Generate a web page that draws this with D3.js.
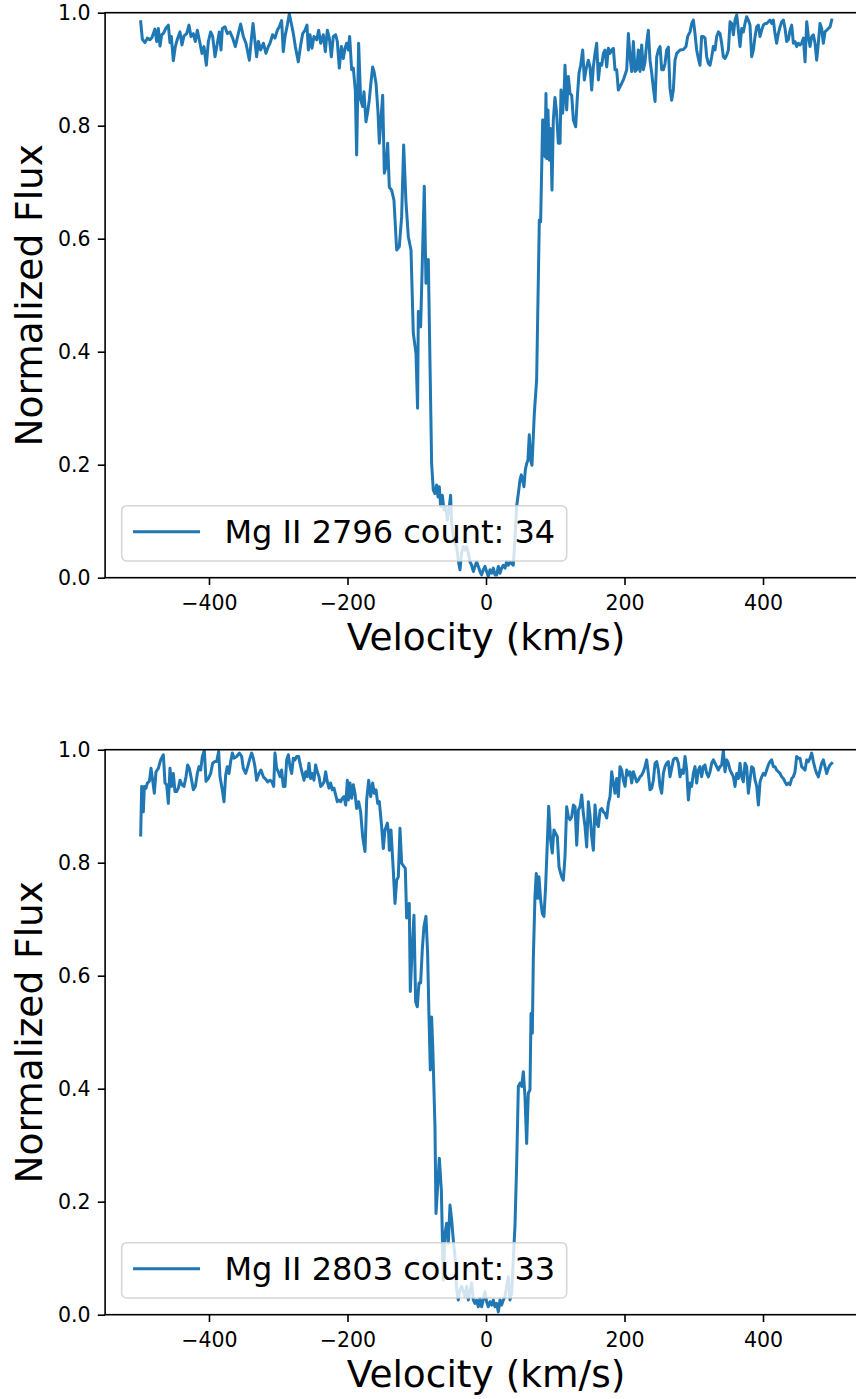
<!DOCTYPE html>
<html><head><meta charset="utf-8">
<script src="https://cdn.jsdelivr.net/npm/d3@7"></script>
<style>body{margin:0;background:#fff}svg{display:block}text{font-family:"DejaVu Sans",sans-serif}</style>
</head><body><svg id="c" width="856" height="1399"></svg>
<script>
const vel2796=[-498.6,-496.2,-492.4,-489.0,-485.2,-482.3,-480.4,-478.0,-475.5,-473.1,-470.7,-468.3,-465.9,-462.5,-458.7,-456.3,-454.4,-451.5,-448.6,-445.7,-441.9,-439.0,-436.1,-432.2,-428.9,-426.0,-422.6,-419.7,-416.8,-413.0,-410.1,-407.2,-403.8,-400.9,-397.6,-394.7,-391.3,-387.9,-385.1,-382.6,-380.7,-376.9,-373.5,-369.7,-365.8,-362.0,-358.6,-354.3,-350.4,-346.6,-341.7,-338.9,-336.4,-333.6,-331.2,-328.7,-325.4,-321.5,-317.7,-314.3,-311.9,-308.1,-304.7,-301.3,-298.4,-295.1,-292.7,-290.2,-286.9,-284.0,-281.1,-278.2,-275.3,-273.4,-271.0,-267.6,-264.7,-261.4,-258.5,-256.5,-254.1,-251.3,-248.4,-244.5,-241.6,-238.7,-234.9,-232.0,-229.1,-226.2,-223.3,-220.5,-217.1,-214.7,-211.8,-208.9,-206.0,-203.6,-201.2,-198.8,-196.9,-194.0,-191.6,-188.7,-186.8,-183.9,-181.0,-178.1,-176.2,-173.3,-170.4,-168.5,-166.5,-163.7,-161.7,-158.8,-156.0,-154.0,-152.1,-149.2,-146.8,-144.4,-142.0,-139.6,-136.2,-132.9,-129.0,-125.2,-121.8,-118.9,-115.6,-112.2,-108.3,-105.0,-101.1,-98.8,-97.7,-94.4,-89.1,-86.7,-83.3,-78.5,-76.1,-73.7,-71.3,-69.3,-67.4,-65.5,-63.1,-60.7,-58.3,-55.9,-53.5,-51.1,-49.6,-47.2,-44.8,-42.4,-40.0,-37.6,-35.2,-32.8,-30.4,-28.0,-25.5,-23.1,-20.7,-18.3,-15.9,-13.5,-11.1,-8.7,-6.3,-3.9,-1.5,0.9,3.3,5.7,8.2,10.6,13.0,15.4,17.8,20.2,22.6,25.0,27.4,29.8,32.2,34.6,37.0,39.4,41.8,44.2,46.7,49.1,51.0,52.9,54.8,56.8,58.7,60.6,62.5,64.5,66.4,68.3,69.8,73.1,77.0,78.9,81.8,84.2,85.2,86.6,87.6,89.5,91.4,93.3,95.3,97.2,99.6,102.0,104.4,106.9,108.3,110.7,112.7,114.1,116.5,118.9,121.3,123.7,126.2,129.5,131.9,134.3,136.7,139.6,142.0,144.4,147.8,150.2,152.6,155.0,157.4,159.8,162.3,164.7,167.1,169.5,171.9,174.3,176.7,179.1,181.5,183.9,186.3,188.7,191.1,193.5,195.9,198.3,200.8,203.2,205.6,208.0,210.4,212.8,215.2,217.6,220.0,222.4,224.8,227.2,229.6,232.0,234.4,236.8,239.3,241.7,244.1,246.5,248.9,251.3,253.7,256.1,258.5,260.9,263.3,265.7,268.1,270.5,272.9,275.4,277.8,280.2,285.0,288.8,291.2,294.6,297.0,299.4,301.8,304.2,306.6,309.0,311.4,313.9,316.3,318.7,321.1,323.5,325.9,328.3,330.7,333.1,335.5,337.9,340.3,342.7,345.1,347.6,350.0,352.4,354.8,357.2,359.6,362.0,364.4,366.8,369.2,371.6,374.0,376.4,378.8,381.2,383.6,386.1,388.5,390.9,393.3,395.7,398.1,400.5,402.9,405.3,407.7,410.1,412.5,414.9,417.3,419.7,422.1,424.6,427.0,429.4,431.8,434.2,436.6,439.0,441.4,443.8,446.2,448.6,451.0,453.4,455.8,458.3,460.7,463.1,465.5,467.9,470.3,472.7,475.1,477.5,479.9,482.3,484.7,487.1,489.5,491.9,494.4,496.8,499.2];
const flux2796=[.984,.953,.947,.955,.952,.956,.963,.971,.949,.972,.941,.961,.963,.972,.978,.947,.958,.915,.940,.953,.966,.943,.959,.963,.978,.958,.963,.949,.969,.946,.928,.940,.907,.949,.966,.958,.922,.946,.966,.934,.972,.975,.963,.966,.955,.940,.958,.980,.958,.946,.916,.952,.981,.949,.922,.949,.934,.946,.928,.940,.946,.961,.955,.969,.975,.986,.931,.958,.978,.998,.981,.963,.940,.928,.913,.943,.963,.969,.978,.934,.961,.937,.958,.952,.969,.946,.961,.931,.969,.955,.922,.958,.961,.949,.902,.940,.919,.937,.946,.934,.958,.899,.902,.863,.748,.946,.846,.834,.860,.807,.828,.846,.872,.904,.896,.875,.825,.769,.804,.854,.716,.727,.769,.691,.686,.668,.580,.586,.639,.766,.666,.604,.580,.433,.397,.300,.471,.444,.693,.521,.563,.202,.155,.149,.164,.143,.161,.126,.146,.120,.126,.102,.120,.146,.096,.073,.061,.055,.031,.014,.043,.055,.049,.055,.043,.028,.022,.011,.020,.028,.020,.011,.005,.014,.020,.011,.002,.014,.008,.017,.005,.005,.020,.008,.017,.022,.017,.028,.022,.028,.025,.022,.067,.126,.149,.173,.182,.173,.161,.191,.202,.208,.253,.208,.199,.250,.291,.350,.633,.630,.810,.810,.745,.857,.742,.828,.739,.795,.686,.810,.850,.822,.769,.769,.863,.822,.857,.907,.828,.887,.857,.854,.810,.798,.851,.893,.907,.934,.881,.899,.916,.904,.863,.904,.928,.946,.881,.910,.907,.928,.934,.904,.937,.928,.934,.937,.899,.899,.863,.869,.875,.881,.890,.899,.963,.922,.896,.949,.896,.899,.934,.896,.943,.899,.913,.946,.969,.916,.893,.866,.843,.922,.934,.940,.899,.899,.910,.934,.939,.866,.845,.863,.916,.928,.931,.934,.935,.940,.958,.966,.981,.987,.963,.934,.919,.907,.958,.958,.955,.922,.910,.907,.922,.940,.934,.958,.966,.963,.946,.922,.919,.925,.934,.984,.981,.961,.987,.996,.969,.940,.972,.966,.981,.993,.987,.978,.922,.934,.958,.975,.978,.958,.969,.978,.981,.981,.984,.987,.981,.987,.963,.946,.963,.975,.984,.987,.972,.949,.952,.969,.978,.946,.949,.940,.946,.943,.946,.955,.913,.984,.958,.940,.958,.961,.946,.916,.946,.981,.972,.946,.966,.969,.972,.975,.987];
const vel2803=[-498.6,-497.2,-494.8,-493.3,-490.9,-489.0,-486.1,-483.7,-481.3,-478.9,-476.5,-473.1,-469.8,-465.9,-463.5,-461.1,-458.7,-456.3,-453.9,-451.5,-449.1,-446.7,-444.3,-441.9,-439.0,-436.1,-433.2,-430.8,-428.4,-426.0,-422.6,-419.7,-416.8,-414.4,-412.0,-409.6,-406.7,-404.3,-400.9,-397.6,-394.7,-391.8,-388.9,-386.0,-384.1,-381.2,-378.3,-375.9,-373.5,-371.1,-368.7,-366.3,-363.9,-360.0,-356.2,-352.8,-350.4,-347.0,-344.1,-340.8,-338.4,-336.0,-333.6,-331.2,-327.8,-324.9,-321.5,-318.2,-315.3,-311.9,-309.0,-306.6,-304.7,-302.3,-299.9,-297.4,-295.1,-292.7,-290.2,-287.8,-285.4,-283.0,-280.6,-278.2,-275.8,-273.4,-270.5,-267.6,-265.2,-262.8,-260.4,-258.0,-255.6,-253.2,-250.8,-248.4,-246.0,-243.6,-241.1,-238.7,-236.3,-233.9,-231.5,-229.1,-226.7,-224.3,-221.9,-219.5,-217.1,-214.7,-212.3,-209.9,-207.4,-205.0,-202.6,-200.2,-198.8,-196.4,-194.0,-191.6,-189.2,-186.8,-183.9,-181.0,-178.1,-174.7,-172.3,-169.4,-166.5,-163.7,-161.3,-158.8,-156.4,-154.0,-150.7,-148.3,-145.9,-142.5,-140.6,-139.6,-137.2,-135.8,-133.9,-131.4,-129.0,-126.6,-124.2,-121.8,-118.4,-116.5,-114.6,-112.7,-110.8,-109.3,-106.9,-104.0,-101.6,-99.2,-96.8,-94.4,-92.0,-89.6,-86.7,-84.3,-82.3,-80.4,-78.5,-76.6,-73.7,-72.2,-67.4,-64.5,-61.6,-59.2,-56.8,-54.4,-52.0,-49.6,-47.2,-44.8,-42.4,-40.0,-37.6,-35.2,-32.8,-30.4,-28.0,-25.5,-23.1,-20.7,-18.3,-15.9,-13.5,-11.1,-8.7,-6.3,-3.9,-1.5,0.9,3.3,5.7,8.2,10.6,13.0,15.4,17.8,20.2,22.6,25.0,27.4,29.8,32.2,34.6,37.0,39.4,41.8,44.2,46.7,49.1,51.5,53.9,56.3,58.7,61.1,63.5,65.0,66.9,68.3,70.7,72.6,74.6,76.5,78.9,81.3,83.7,86.1,88.5,90.5,93.3,95.7,98.1,100.6,103.0,105.4,107.8,109.3,111.7,114.1,116.5,118.9,121.3,123.7,126.2,128.6,131.0,133.4,135.8,138.2,140.6,143.0,145.4,147.8,150.2,152.6,155.0,157.4,159.8,162.3,164.7,167.1,169.5,171.9,174.3,176.7,179.1,181.5,183.9,186.3,188.7,191.1,193.5,195.9,198.3,200.8,203.2,205.6,208.0,210.4,212.8,215.2,217.6,220.0,222.4,224.8,227.2,229.6,232.0,234.4,236.8,239.3,241.7,244.1,246.5,248.9,251.3,253.7,256.1,258.5,260.9,263.3,265.7,268.1,270.5,272.9,275.4,277.8,280.2,282.6,285.0,287.4,289.8,292.2,294.6,297.0,299.4,301.8,304.2,306.6,309.0,311.4,313.9,316.3,318.7,321.1,323.5,325.9,328.3,330.7,333.1,335.5,337.9,340.3,342.7,345.1,347.6,350.0,352.4,354.8,357.2,359.6,362.0,364.4,366.8,369.2,371.6,374.0,376.4,378.8,381.2,383.6,386.1,388.5,390.9,393.3,395.7,398.1,400.5,402.9,405.3,407.7,410.1,412.5,414.9,417.3,419.7,422.1,424.6,427.0,429.4,431.8,434.2,436.6,439.0,441.4,443.8,446.2,448.6,451.0,453.4,455.8,458.3,460.7,463.1,465.5,467.9,470.3,472.7,475.1,477.5,479.9,482.3,484.7,487.1,489.5,491.9,494.4,496.8,499.2];
const flux2803=[.849,.935,.890,.935,.932,.941,.944,.967,.946,.923,.961,.967,.982,.991,.941,.938,.905,.967,.935,.958,.926,.926,.932,.946,.938,.935,.952,.973,.967,.952,.929,.935,.958,.970,.964,.988,.999,.944,.949,.958,.976,.979,.979,.997,.952,.932,.908,.955,.970,.958,.979,.994,.985,.988,.994,.988,.967,.958,.970,.985,.994,.985,.970,.946,.958,.964,.952,.948,.943,.946,.943,.935,.994,.967,.961,.952,.964,.935,.935,.982,.991,.970,.958,.985,.982,.988,.988,.970,.958,.946,.961,.952,.976,.949,.958,.946,.973,.961,.952,.935,.938,.943,.961,.943,.932,.941,.929,.932,.920,.908,.911,.908,.914,.917,.902,.946,.911,.941,.914,.938,.923,.896,.908,.890,.846,.820,.911,.946,.917,.941,.923,.929,.905,.908,.864,.825,.858,.870,.852,.822,.858,.828,.787,.728,.769,.775,.861,.799,.793,.790,.702,.725,.728,.572,.640,.707,.554,.545,.587,.587,.646,.687,.705,.640,.527,.433,.527,.463,.333,.179,.277,.221,.061,.144,.162,.126,.194,.168,.132,.103,.044,.026,.044,.050,.041,.032,.050,.026,.041,.056,.026,.020,.026,.014,.029,.014,.026,.041,.023,.014,.023,.017,.026,.014,.020,.005,.026,.017,.026,.032,.050,.067,.026,.038,.097,.156,.262,.404,.410,.404,.430,.386,.303,.392,.398,.533,.498,.628,.740,.781,.737,.775,.734,.710,.705,.758,.834,.900,.840,.817,.858,.852,.846,.793,.781,.775,.769,.811,.899,.881,.876,.881,.902,.899,.831,.893,.899,.920,.887,.864,.828,.908,.884,.846,.822,.902,.870,.864,.893,.896,.890,.887,.879,.905,.917,.961,.941,.923,.949,.917,.970,.964,.946,.935,.964,.955,.961,.941,.961,.952,.943,.946,.952,.955,.961,.970,.982,.958,.929,.932,.946,.976,.979,.964,.935,.923,.958,.970,.976,.979,.952,.967,.982,.985,.985,.976,.952,.964,.958,.988,.964,.911,.941,.935,.958,.970,.941,.964,.970,.952,.970,.973,.958,.952,.961,.976,.982,.976,.970,.964,.970,.973,.999,.961,.982,.976,.964,.958,.952,.935,.958,.949,.976,.952,.943,.976,.970,.923,.946,.970,.967,.946,.935,.902,.943,.952,.958,.955,.964,.973,.979,.982,.970,.970,.964,.961,.958,.952,.949,.943,.938,.941,.938,.949,.952,.961,.988,.985,.985,.970,.967,.964,.982,.979,.985,.994,.979,.967,.958,.952,.964,.976,.982,.970,.958,.967,.973,.976];
const xTicks=[-400,-200,0,200,400];
const yTicks=[0,0.2,0.4,0.6,0.8,1.0];
const xDomain=[-550,550];
const yDomain=[0,1];
const labels=["Mg II 2796 count: 34","Mg II 2803 count: 33"];
const xTitle="Velocity (km/s)";
const yTitle="Normalized Flux";

const svg=d3.select("#c");
svg.append("rect").attr("width",856).attr("height",1399).attr("fill","#fff");
const L=105.1,R=866.9,H=565,C="#1f77b4";
const panels=[{top:12.7,v:vel2796,f:flux2796,lab:labels[0]},{top:749.7,v:vel2803,f:flux2803,lab:labels[1]}];
const x=d3.scaleLinear().domain(xDomain).range([L,R]);
panels.forEach((p,i)=>{
  const y=d3.scaleLinear().domain(yDomain).range([p.top+H,p.top]);
  const g=svg.append("g");
  const cid="clip"+i;
  svg.append("clipPath").attr("id",cid).append("rect").attr("x",L).attr("y",p.top).attr("width",R-L).attr("height",H);
  const data=p.v.map((v,k)=>[v,p.f[k]]);
  g.append("path").datum(data).attr("clip-path","url(#"+cid+")")
    .attr("d",d3.line().x(d=>x(d[0])).y(d=>y(d[1])))
    .attr("fill","none").attr("stroke",C).attr("stroke-width",3)
    .attr("stroke-linejoin","round").attr("stroke-linecap","square");
  // frame
  g.append("rect").attr("x",L).attr("y",p.top).attr("width",R-L).attr("height",H)
    .attr("fill","none").attr("stroke","#000").attr("stroke-width",1.6);
  const xa=g.append("g").attr("transform",`translate(0,${p.top+H})`)
    .call(d3.axisBottom(x).tickValues(xTicks).tickSize(7.3).tickSizeOuter(0).tickPadding(10)
      .tickFormat(d=>d<0?"\u2212"+Math.abs(d):String(d)));
  const ya=g.append("g").attr("transform",`translate(${L},0)`)
    .call(d3.axisLeft(y).tickValues(yTicks).tickSize(7.3).tickSizeOuter(0).tickPadding(7.3).tickFormat(d3.format(".1f")));
  [xa,ya].forEach(a=>{a.select(".domain").remove();
    a.selectAll("line").attr("stroke","#000").attr("stroke-width",1.6);
    a.selectAll("text").attr("font-size",20.5).attr("fill","#000").attr("font-family","DejaVu Sans");});
  g.append("text").attr("x",(L+R)/2).attr("y",p.top+H+72.3).attr("text-anchor","middle")
    .attr("font-size",37.5).text(xTitle);
  g.append("text").attr("transform",`translate(42,${p.top+H/2}) rotate(-90)`).attr("text-anchor","middle")
    .attr("font-size",37.5).text(yTitle);
  // legend
  const ly=p.top+H-72;
  g.append("rect").attr("x",121.7).attr("y",ly).attr("width",445).attr("height",55.3).attr("rx",5)
    .attr("fill","#fff").attr("fill-opacity",0.8).attr("stroke","#ccc").attr("stroke-opacity",0.8).attr("stroke-width",1.6);
  g.append("line").attr("x1",134.5).attr("x2",198.5).attr("y1",ly+26).attr("y2",ly+26)
    .attr("stroke",C).attr("stroke-width",3).attr("stroke-linecap","square");
  g.append("text").attr("x",224.5).attr("y",ly+37.5).attr("font-size",32).text(p.lab);
});
</script></body></html>
